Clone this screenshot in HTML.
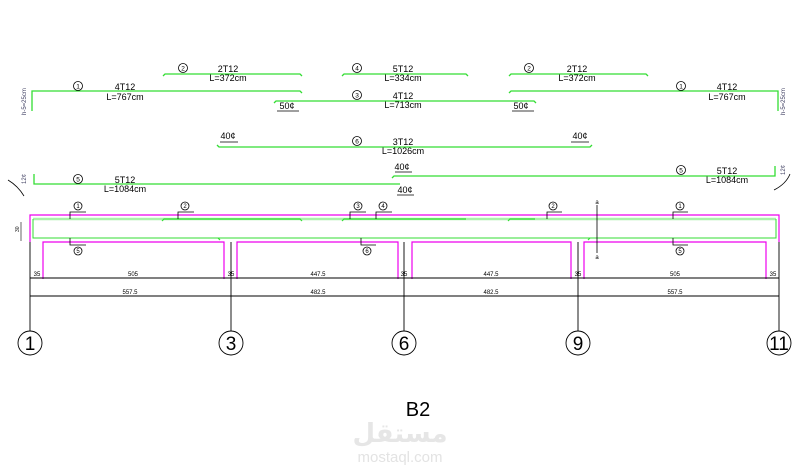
<!DOCTYPE html>
<html><head><style>body{margin:0;background:#fff}svg{display:block}</style></head><body>
<svg width="800" height="470" viewBox="0 0 800 470" xmlns="http://www.w3.org/2000/svg" font-family="Liberation Sans, sans-serif">
<g fill="none" stroke="#33dd33" stroke-width="1.3">
<path d="M32,111 V91 H300 l2,2"/>
<path d="M163,76 l2,-2 H300 l2,2"/>
<path d="M342,76 l2,-2 H466 l2,2"/>
<path d="M509,76 l2,-2 H646 l2,2"/>
<path d="M509,93 l2,-2 H778 V111"/>
<path d="M274,103 l2,-2 H534 l2,2"/>
<path d="M217,145 l2,2 H590 l2,-2"/>
<path d="M34,174 V184 H400"/>
<path d="M392,178 l2,-2 H775 V166"/>
</g>
<g fill="none" stroke="#000" stroke-width="0.8">
<circle cx="78" cy="86" r="4.5"/><circle cx="183" cy="68" r="4.5"/><circle cx="357" cy="68" r="4.5"/>
<circle cx="529" cy="68" r="4.5"/><circle cx="681" cy="86" r="4.5"/><circle cx="357" cy="95" r="4.5"/>
<circle cx="357" cy="141" r="4.5"/><circle cx="78" cy="179" r="4.5"/><circle cx="681" cy="170" r="4.5"/>
<path d="M277,111 H299 M512,111 H534 M220,142 H238 M571,142 H589 M395,172 H412 M397,195 H414"/>
</g>
<g font-size="6.5" text-anchor="middle" fill="#000">
<text x="78" y="88.5">1</text><text x="183" y="70.5">2</text><text x="357" y="70.5">4</text>
<text x="529" y="70.5">2</text><text x="681" y="88.5">1</text><text x="357" y="97.5">3</text>
<text x="357" y="143.5">6</text><text x="78" y="181.5">5</text><text x="681" y="172.5">5</text>
</g>
<g font-size="9" text-anchor="middle" fill="#000">
<text x="125" y="90">4T12</text><text x="125" y="100">L=767cm</text>
<text x="228" y="72">2T12</text><text x="228" y="81">L=372cm</text>
<text x="403" y="72">5T12</text><text x="403" y="81">L=334cm</text>
<text x="577" y="72">2T12</text><text x="577" y="81">L=372cm</text>
<text x="727" y="90">4T12</text><text x="727" y="100">L=767cm</text>
<text x="403" y="99">4T12</text><text x="403" y="108">L=713cm</text>
<text x="403" y="145">3T12</text><text x="403" y="154">L=1026cm</text>
<text x="125" y="183">5T12</text><text x="125" y="192">L=1084cm</text>
<text x="727" y="174">5T12</text><text x="727" y="183">L=1084cm</text>
<text x="287" y="109">50¢</text><text x="521" y="109">50¢</text>
<text x="228" y="139">40¢</text><text x="580" y="139">40¢</text>
<text x="402" y="170">40¢</text><text x="405" y="193">40¢</text>
</g>
<g font-size="6" fill="#446">
<text transform="translate(26,115) rotate(-90)">h-5=25cm</text>
<text transform="translate(785,115) rotate(-90)">h-5=25cm</text>
<text transform="translate(26,184) rotate(-90)">12¢</text>
<text transform="translate(785,175) rotate(-90)">12¢</text>
</g>
<path d="M8,180 Q18,186 24,196 M790,174 Q786,184 774,190" fill="none" stroke="#000" stroke-width="0.8"/>
<g fill="none" stroke="#ee00ee" stroke-width="1.2">
<path d="M30,242 V215 H779 V242"/>
<path d="M43,279 V242 H224 V279 M237,279 V242 H398 V279 M412,279 V242 H571 V279 M584,279 V242 H766 V279"/>
</g>
<path d="M33,219 H776" stroke="#aaf0aa" stroke-width="2.5"/>
<path d="M33,219 V238 H776 V219" fill="none" stroke="#33dd33" stroke-width="1"/>
<path d="M162,221 l2,-2 H300 l2,2 M342,221 l2,-2 H466 M508,221 l2,-2 H535 M218,238 l2,2 M590,238 l-2,2" fill="none" stroke="#33dd33" stroke-width="1.2"/>
<g fill="none" stroke="#000" stroke-width="0.8">
<path d="M70,219 V212 H86 M70,238 V245 H86 M178,219 V212 H194 M350,219 V212 H366 M376,219 V212 H392 M361,238 V245 H376 M547,219 V212 H562 M673,219 V212 H688 M673,238 V245 H688 M597,205 V253"/>
<circle cx="78" cy="206" r="4"/><circle cx="78" cy="251" r="4"/><circle cx="185" cy="206" r="4"/>
<circle cx="358" cy="206" r="4"/><circle cx="383" cy="206" r="4"/><circle cx="367" cy="251" r="4"/>
<circle cx="553" cy="206" r="4"/><circle cx="680" cy="206" r="4"/><circle cx="680" cy="251" r="4"/>
</g>
<g font-size="6" text-anchor="middle" fill="#000">
<text x="78" y="208">1</text><text x="78" y="253">5</text><text x="185" y="208">2</text><text x="358" y="208">3</text>
<text x="383" y="208">4</text><text x="367" y="253">6</text><text x="553" y="208">2</text><text x="680" y="208">1</text><text x="680" y="253">5</text>
<text x="597" y="204">a</text><text x="597" y="259">a</text>
</g>
<text x="19" y="232" font-size="5" transform="rotate(-90 19 232)">30</text>
<path d="M21,222 V241" stroke="#000" stroke-width="0.6"/>
<g stroke="#000" stroke-width="0.9" fill="none">
<path d="M30,242 V331 M231,242 V331 M404,242 V331 M578,242 V331 M779,242 V331"/>
<path d="M30,278 H779 M30,296 H779"/>
</g>
<g font-size="6" text-anchor="middle" fill="#000">
<text x="37" y="276">35</text><text x="133" y="276">505</text><text x="231" y="276">35</text>
<text x="318" y="276">447.5</text><text x="404" y="276">35</text><text x="491" y="276">447.5</text>
<text x="578" y="276">35</text><text x="675" y="276">505</text><text x="773" y="276">35</text>
<text x="130" y="294">557.5</text><text x="318" y="294">482.5</text><text x="491" y="294">482.5</text><text x="675" y="294">557.5</text>
</g>
<g fill="#fff" stroke="#000" stroke-width="0.9">
<circle cx="30" cy="343" r="12"/><circle cx="231" cy="343" r="12"/><circle cx="404" cy="343" r="12"/><circle cx="578" cy="343" r="12"/><circle cx="779" cy="343" r="12"/>
</g>
<g font-size="19" text-anchor="middle" fill="#000">
<text x="30" y="350">1</text><text x="231" y="350">3</text><text x="404" y="350">6</text><text x="578" y="350">9</text><text x="779" y="350">11</text>
</g>
<text x="418" y="416" font-size="20" text-anchor="middle" fill="#000">B2</text>
<text x="400" y="442" font-size="26" font-weight="bold" text-anchor="middle" fill="#e6e6e6" font-family="DejaVu Sans, sans-serif">مستقل</text>
<text x="400" y="462" font-size="15" text-anchor="middle" fill="#e3e3e3">mostaql.com</text>
</svg>
</body></html>
